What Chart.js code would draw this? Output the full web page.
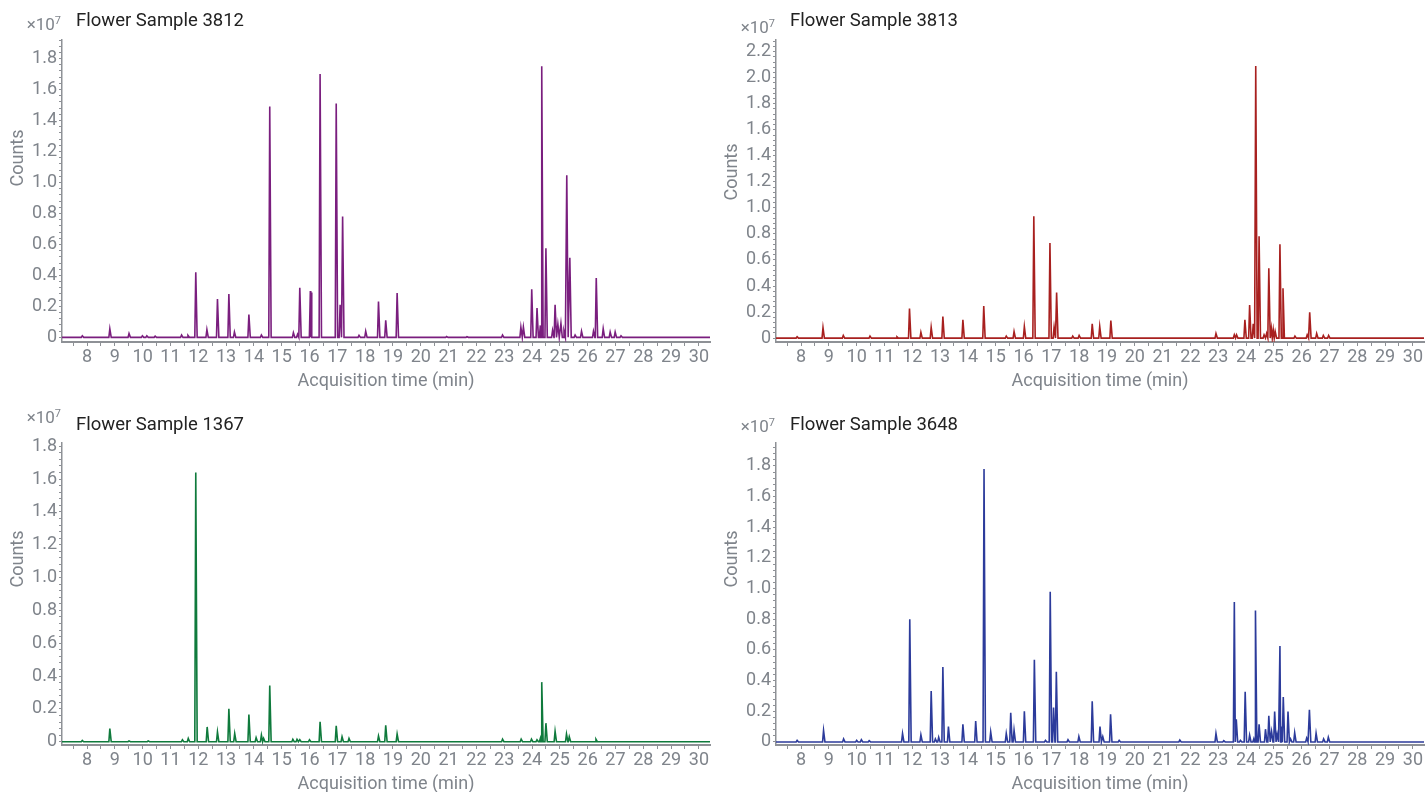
<!DOCTYPE html>
<html lang="en">
  <head>
    <meta charset="UTF-8" />
    <title>Flower Samples</title>
    <script src="https://cdn.jsdelivr.net/npm/chart.js"></script>
    <style>
      body {
        margin: 0;
        background: #fff;
        overflow: hidden;
      }
      .panel {
        position: absolute;
        width: 714px;
        height: 396px;
      }
    </style>
  </head>
  <body>
    <div class="panel" style="left: 0; top: 0"><canvas id="c3812" width="714" height="396"></canvas></div>
    <div class="panel" style="left: 714px; top: 0"><canvas id="c3813" width="714" height="396"></canvas></div>
    <div class="panel" style="left: 0; top: 403px"><canvas id="c1367" width="714" height="396"></canvas></div>
    <div class="panel" style="left: 714px; top: 403px"><canvas id="c3648" width="714" height="396"></canvas></div>

    <script>
      // tick labels
      const xTickLabels = [8, 9, 10, 11, 12, 13, 14, 15, 16, 17, 18, 19, 20, 21, 22, 23, 24, 25, 26, 27, 28, 29, 30]
      const yTicks18 = [0, 0.2, 0.4, 0.6, 0.8, 1.0, 1.2, 1.4, 1.6, 1.8]
      const yTicks22 = [0, 0.2, 0.4, 0.6, 0.8, 1.0, 1.2, 1.4, 1.6, 1.8, 2.0, 2.2]

      // peaks: retention time (min) and height (x10^7 counts)
      const times3812 = [7.83, 8.82, 9.51, 9.99, 10.15, 10.45, 11.4, 11.63, 11.91, 12.31, 12.69, 13.1, 13.3, 13.82, 14.27, 14.57, 15.42, 15.57, 15.65, 16.03, 16.08, 16.38, 16.96, 17.1, 17.19, 17.78, 18.02, 18.48, 18.74, 19.15, 20.93, 21.66, 22.94, 23.6, 23.69, 23.99, 24.18, 24.3, 24.35, 24.5, 24.74, 24.83, 24.93, 25.04, 25.15, 25.25, 25.36, 25.55, 25.78, 26.21, 26.31, 26.56, 26.81, 26.99, 27.2]
      const heights3812 = [0.01, 0.055, 0.025, 0.01, 0.01, 0.008, 0.015, 0.012, 0.42, 0.05, 0.247, 0.28, 0.035, 0.148, 0.015, 1.49, 0.03, 0.02, 0.32, 0.3, 0.29, 1.7, 1.51, 0.21, 0.78, 0.013, 0.04, 0.232, 0.11, 0.286, 0.005, 0.004, 0.015, 0.066, 0.066, 0.31, 0.19, 0.077, 1.75, 0.576, 0.045, 0.21, 0.084, 0.09, 0.04, 1.047, 0.514, 0.015, 0.04, 0.04, 0.383, 0.056, 0.035, 0.035, 0.01]

      const times3813 = [7.86, 8.79, 9.52, 10.48, 11.45, 11.9, 12.31, 12.68, 13.1, 13.82, 14.57, 15.38, 15.66, 16.03, 16.37, 16.95, 17.1, 17.19, 17.77, 18.0, 18.47, 18.74, 19.14, 22.92, 23.58, 23.66, 23.96, 24.13, 24.26, 24.35, 24.47, 24.65, 24.74, 24.82, 24.91, 24.98, 25.05, 25.22, 25.33, 25.76, 26.2, 26.29, 26.54, 26.78, 26.97]
      const heights3813 = [0.01, 0.08, 0.02, 0.015, 0.01, 0.228, 0.045, 0.083, 0.165, 0.14, 0.247, 0.015, 0.05, 0.088, 0.936, 0.73, 0.085, 0.35, 0.015, 0.02, 0.11, 0.09, 0.135, 0.035, 0.025, 0.025, 0.14, 0.254, 0.11, 2.09, 0.783, 0.025, 0.035, 0.537, 0.075, 0.065, 0.05, 0.72, 0.382, 0.015, 0.025, 0.198, 0.035, 0.02, 0.02]

      const times1367 = [7.83, 8.82, 9.51, 10.2, 11.43, 11.64, 11.91, 12.32, 12.69, 13.1, 13.31, 13.82, 14.08, 14.27, 14.35, 14.57, 15.4, 15.55, 15.65, 16.0, 16.38, 16.96, 17.17, 17.42, 18.48, 18.74, 19.15, 22.94, 23.61, 23.98, 24.18, 24.3, 24.35, 24.5, 24.83, 25.24, 25.34, 26.3]
      const heights1367 = [0.008, 0.08, 0.005, 0.005, 0.012, 0.02, 1.64, 0.09, 0.06, 0.2, 0.05, 0.166, 0.025, 0.04, 0.02, 0.342, 0.015, 0.015, 0.012, 0.012, 0.122, 0.097, 0.03, 0.02, 0.035, 0.1, 0.047, 0.016, 0.016, 0.016, 0.012, 0.02, 0.363, 0.113, 0.063, 0.047, 0.03, 0.015]

      const times3648 = [7.86, 8.81, 9.53, 10.0, 10.17, 10.45, 11.65, 11.91, 12.31, 12.68, 12.83, 12.95, 13.1, 13.3, 13.82, 14.28, 14.58, 14.82, 15.38, 15.54, 15.66, 16.03, 16.39, 16.79, 16.96, 17.08, 17.18, 17.6, 17.99, 18.47, 18.75, 18.85, 19.13, 19.44, 21.62, 22.92, 23.2, 23.58, 23.65, 23.8, 23.97, 24.13, 24.28, 24.34, 24.47, 24.7, 24.82, 24.92, 25.03, 25.12, 25.22, 25.28, 25.34, 25.51, 25.6, 25.75, 26.18, 26.28, 26.52, 26.79, 26.96]
      const heights3648 = [0.01, 0.074, 0.02, 0.01, 0.015, 0.008, 0.055, 0.8, 0.046, 0.332, 0.02, 0.03, 0.489, 0.1, 0.115, 0.137, 1.78, 0.065, 0.055, 0.19, 0.076, 0.2, 0.536, 0.01, 0.98, 0.224, 0.458, 0.015, 0.035, 0.265, 0.1, 0.035, 0.18, 0.01, 0.012, 0.055, 0.008, 0.912, 0.148, 0.01, 0.328, 0.044, 0.02, 0.858, 0.115, 0.083, 0.17, 0.068, 0.198, 0.05, 0.625, 0.1, 0.293, 0.198, 0.02, 0.06, 0.025, 0.21, 0.057, 0.02, 0.03]

      const xMin = 7.1
      const xMax = 30.4
      const grey = '#7f848b'
      const axisGrey = '#8e9196'

      // each peak becomes a spike on the baseline
      function trace(times, heights) {
        const pts = [{ x: xMin, y: 0 }, { x: xMax, y: 0 }]
        times.forEach((t, i) => {
          pts.push({ x: t - 0.035, y: 0 }, { x: t, y: heights[i] }, { x: t + 0.05, y: 0 })
        })
        return pts.sort((a, b) => a.x - b.x)
      }

      const panelText = {
        id: 'panelText',
        afterDraw(chart, args, opts) {
          const { ctx, chartArea } = chart
          ctx.save()
          ctx.textBaseline = 'middle'
          ctx.fillStyle = '#222'
          ctx.font = '18.5px Roboto'
          ctx.fillText(opts.title, chartArea.left + 14, opts.titleY)

          ctx.fillStyle = grey
          ctx.textAlign = 'right'
          ctx.font = '11px Roboto'
          ctx.fillText('7', chartArea.left - 1, opts.expY - 5)
          const w = ctx.measureText('7').width
          ctx.font = '17px Roboto'
          ctx.fillText('×10', chartArea.left - 1 - w, opts.expY)

          ctx.font = '18px Roboto'
          ctx.textAlign = 'center'
          ctx.translate(chartArea.left - 44, opts.countsY)
          ctx.rotate(-Math.PI / 2)
          ctx.fillText('Counts', 0, 0)
          ctx.restore()
        },
      }

      function makeChart(id, title, times, heights, color, yTicks, yMin, yMax, text) {
        return new Chart(document.getElementById(id), {
          type: 'line',
          data: {
            datasets: [
              {
                data: trace(times, heights),
                borderColor: color,
                borderWidth: 1.6,
                pointRadius: 0,
                tension: 0,
              },
            ],
          },
          options: {
            responsive: false,
            animation: false,
            layout: { padding: { top: 40, right: 4, left: 0, bottom: 0 } },
            plugins: {
              legend: { display: false },
              tooltip: { enabled: false },
              panelText: { title: title, ...text },
            },
            scales: {
              x: {
                type: 'linear',
                min: xMin,
                max: xMax,
                afterFit: (s) => { s.height = 54 },
                afterBuildTicks: (s) => {
                  const ticks = []
                  xTickLabels.forEach((v) => {
                    if (v - 0.5 >= xMin) ticks.push({ value: v - 0.5 })
                    ticks.push({ value: v })
                  })
                  s.ticks = ticks
                },
                ticks: {
                  autoSkip: false,
                  maxRotation: 0,
                  padding: 1,
                  color: grey,
                  font: { family: 'Roboto', size: 18 },
                  callback: (v) => (Number.isInteger(v) ? String(v) : ''),
                },
                grid: { drawOnChartArea: false, tickLength: 4, tickColor: axisGrey },
                border: { color: axisGrey, width: 2 },
                title: {
                  display: true,
                  text: 'Acquisition time (min)',
                  color: grey,
                  font: { family: 'Roboto', size: 18 },
                  padding: { top: 0, bottom: 4 },
                },
              },
              y: {
                min: yMin,
                max: yMax,
                afterFit: (s) => { s.width = 62 },
                afterBuildTicks: (s) => {
                  const ticks = []
                  yTicks.forEach((v) => {
                    for (let k = 0; k < 5; k++) {
                      const m = Math.round((v + k * 0.04) * 100) / 100
                      if (m <= yMax) ticks.push({ value: m })
                    }
                  })
                  s.ticks = ticks
                },
                ticks: {
                  autoSkip: false,
                  padding: 2,
                  color: grey,
                  font: { family: 'Roboto', size: 18 },
                  callback: (v) => (yTicks.includes(v) ? (v === 0 ? '0' : v.toFixed(1)) : ''),
                },
                grid: { drawOnChartArea: false, tickLength: 3, tickColor: axisGrey },
                border: { color: axisGrey, width: 1.5 },
              },
            },
          },
          plugins: [panelText],
        })
      }

      makeChart('c3812', 'Flower Sample 3812', times3812, heights3812, '#7a1e7e', yTicks18, -0.03, 1.92,
        { titleY: 21, expY: 26, countsY: 158 })
      makeChart('c3813', 'Flower Sample 3813', times3813, heights3813, '#a8201f', yTicks22, -0.03, 2.29,
        { titleY: 21, expY: 29, countsY: 172 })
      makeChart('c1367', 'Flower Sample 1367', times1367, heights1367, '#0f7a3c', yTicks18, -0.02, 1.82,
        { titleY: 22, expY: 16, countsY: 156 })
      makeChart('c3648', 'Flower Sample 3648', times3648, heights3648, '#2c3b9b', yTicks18, -0.02, 1.95,
        { titleY: 22, expY: 25, countsY: 156 })
    </script>
  </body>
</html>
